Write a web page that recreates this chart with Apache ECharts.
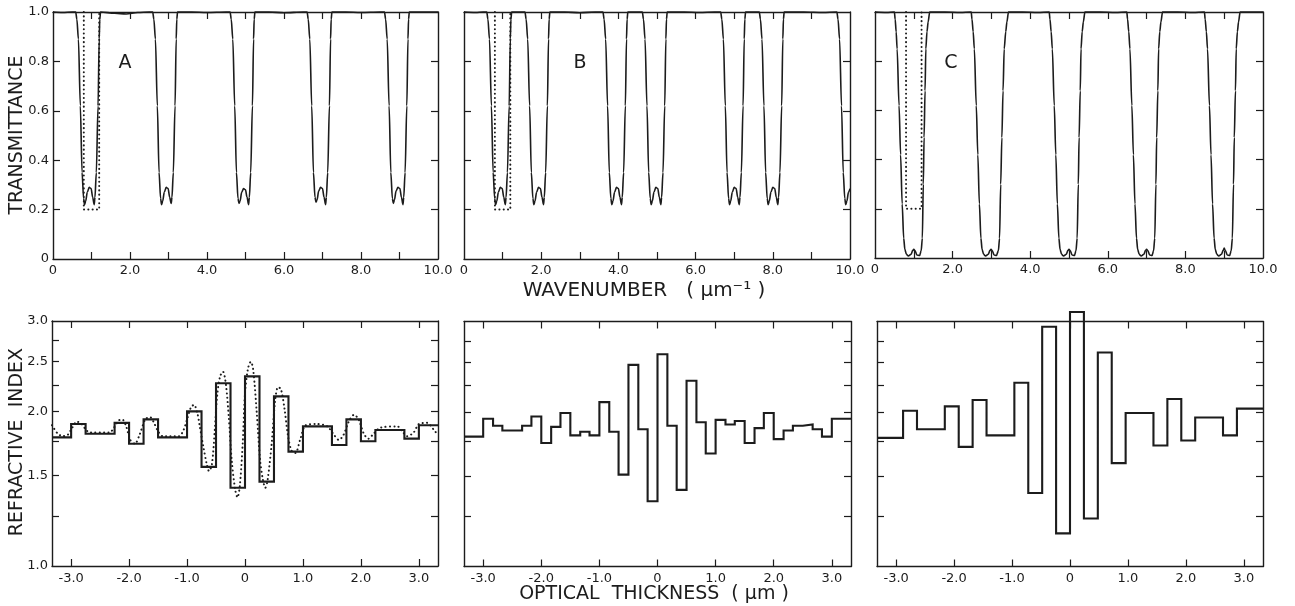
<!DOCTYPE html>
<html><head><meta charset="utf-8">
<script src="https://cdn.jsdelivr.net/npm/echarts@6/dist/echarts.min.js"></script>
<style>html,body{margin:0;padding:0;background:#fff}#c{width:1295px;height:606px}</style>
</head><body><div id="c"></div>
<script>
// ---------- Tick / label values ----------
const topXLabels = [0, 2, 4, 6, 8, 10];
const topXTicks = [1, 2, 3, 4, 5, 6, 7, 8, 9];
const topYLabels = [0, 0.2, 0.4, 0.6, 0.8, 1.0];
const topYTicks = [0.2, 0.4, 0.6, 0.8];
const botXLabels = [-3, -2, -1, 0, 1, 2, 3];
const botXTicks = [-3, -2, -1, 0, 1, 2, 3];
const botYLabels = [1.0, 1.5, 2.0, 2.5, 3.0];
const botYTicks = [1.25, 1.5, 1.75, 2.0, 2.25, 2.5, 2.75];

// ---------- Transmittance curves [wavenumber, T] ----------
const transA = [
 [0,1.0],[0.25,0.998],[0.5,1.0],
 [0.59,1.0],[0.62,0.97],[0.66,0.89],[0.71,0.62],[0.755,0.35],[0.795,0.245],[0.82,0.22],[0.85,0.235],[0.89,0.27],[0.94,0.29],[0.99,0.285],[1.03,0.25],[1.07,0.22],[1.09,0.25],[1.125,0.35],[1.17,0.62],[1.20,0.89],[1.215,0.97],[1.235,1.0],
 [1.6,0.995],[1.9,0.992],[2.2,0.998],[2.5,1.0],
 [2.59,1.0],[2.62,0.97],[2.66,0.89],[2.71,0.62],[2.755,0.35],[2.795,0.245],[2.82,0.22],[2.85,0.235],[2.89,0.27],[2.94,0.29],[2.99,0.285],[3.03,0.25],[3.07,0.225],[3.09,0.25],[3.125,0.35],[3.17,0.62],[3.20,0.89],[3.215,0.97],[3.235,1.0],
 [3.6,1.0],[4.0,0.998],[4.5,1.0],
 [4.60,1.0],[4.63,0.97],[4.67,0.89],[4.72,0.62],[4.765,0.35],[4.805,0.245],[4.83,0.225],[4.86,0.235],[4.90,0.27],[4.95,0.285],[5.0,0.28],[5.04,0.25],[5.08,0.22],[5.10,0.25],[5.135,0.35],[5.18,0.62],[5.21,0.89],[5.225,0.97],[5.245,1.0],
 [5.6,1.0],[6.0,0.997],[6.5,1.0],
 [6.60,1.0],[6.63,0.97],[6.67,0.89],[6.72,0.62],[6.765,0.35],[6.805,0.25],[6.83,0.23],[6.86,0.24],[6.90,0.275],[6.95,0.29],[7.0,0.285],[7.04,0.25],[7.08,0.22],[7.10,0.25],[7.135,0.35],[7.18,0.62],[7.21,0.89],[7.225,0.97],[7.245,1.0],
 [7.6,1.0],[8.0,0.998],[8.5,1.0],
 [8.61,1.0],[8.64,0.97],[8.68,0.89],[8.73,0.62],[8.775,0.35],[8.815,0.245],[8.84,0.225],[8.87,0.24],[8.91,0.275],[8.96,0.29],[9.01,0.285],[9.05,0.25],[9.09,0.22],[9.11,0.25],[9.145,0.35],[9.19,0.62],[9.22,0.89],[9.235,0.97],[9.255,1.0],
 [9.6,1.0],[10,1.0]
];
const transB = [
 [0,1.0],[0.3,0.998],[0.5,1.0],
 [0.59,1.0],[0.62,0.97],[0.66,0.89],[0.71,0.62],[0.755,0.35],[0.795,0.245],[0.82,0.22],[0.85,0.235],[0.89,0.27],[0.94,0.29],[0.99,0.285],[1.03,0.25],[1.07,0.22],[1.09,0.25],[1.125,0.35],[1.17,0.62],[1.20,0.89],[1.215,0.97],[1.235,1.0],
 [1.4,1.0],
 [1.58,1.0],[1.61,0.97],[1.65,0.89],[1.70,0.62],[1.745,0.35],[1.785,0.245],[1.81,0.22],[1.84,0.235],[1.88,0.27],[1.93,0.29],[1.98,0.285],[2.02,0.25],[2.06,0.22],[2.08,0.25],[2.115,0.35],[2.16,0.62],[2.19,0.89],[2.205,0.97],[2.225,1.0],
 [2.6,1.0],[3.0,0.997],[3.4,1.0],
 [3.60,1.0],[3.63,0.97],[3.67,0.89],[3.72,0.62],[3.765,0.35],[3.805,0.245],[3.83,0.22],[3.86,0.235],[3.90,0.27],[3.95,0.29],[4.00,0.285],[4.04,0.25],[4.08,0.22],[4.10,0.25],[4.135,0.35],[4.18,0.62],[4.21,0.89],[4.225,0.97],[4.245,1.0],
 [4.45,1.0],
 [4.62,1.0],[4.65,0.97],[4.69,0.89],[4.74,0.62],[4.785,0.35],[4.825,0.245],[4.85,0.22],[4.88,0.235],[4.92,0.27],[4.97,0.29],[5.02,0.285],[5.06,0.25],[5.10,0.22],[5.12,0.25],[5.155,0.35],[5.20,0.62],[5.23,0.89],[5.245,0.97],[5.265,1.0],
 [5.7,1.0],[6.1,0.998],[6.5,1.0],
 [6.65,1.0],[6.68,0.97],[6.72,0.89],[6.77,0.62],[6.815,0.35],[6.855,0.245],[6.88,0.22],[6.91,0.235],[6.95,0.27],[7.00,0.29],[7.05,0.285],[7.09,0.25],[7.13,0.22],[7.15,0.25],[7.185,0.35],[7.23,0.62],[7.26,0.89],[7.275,0.97],[7.295,1.0],
 [7.48,1.0],
 [7.65,1.0],[7.68,0.97],[7.72,0.89],[7.77,0.62],[7.815,0.35],[7.855,0.245],[7.88,0.22],[7.91,0.235],[7.95,0.27],[8.00,0.29],[8.05,0.285],[8.09,0.25],[8.13,0.22],[8.15,0.25],[8.185,0.35],[8.23,0.62],[8.26,0.89],[8.275,0.97],[8.295,1.0],
 [8.8,1.0],[9.3,0.998],
 [9.66,1.0],[9.69,0.97],[9.73,0.89],[9.78,0.62],[9.825,0.35],[9.865,0.245],[9.89,0.22],[9.92,0.235],[9.96,0.27],[10.0,0.285]
];
const transC = [
 [0,1.0],[0.3,0.998],
 [0.50,1.0],[0.52,0.97],[0.545,0.92],[0.57,0.85],[0.62,0.62],[0.66,0.42],[0.70,0.22],[0.74,0.08],[0.77,0.035],[0.81,0.015],[0.86,0.008],[0.93,0.015],[0.97,0.03],[1.0,0.035],[1.03,0.03],[1.08,0.012],[1.15,0.01],[1.19,0.03],[1.22,0.08],[1.245,0.3],[1.265,0.49],[1.29,0.68],[1.31,0.85],[1.34,0.92],[1.37,0.96],[1.41,1.0],
 [1.8,1.0],[2.2,0.998],
 [2.48,1.0],[2.50,0.97],[2.53,0.92],[2.56,0.85],[2.61,0.62],[2.65,0.42],[2.69,0.22],[2.73,0.08],[2.76,0.035],[2.80,0.015],[2.85,0.008],[2.92,0.015],[2.96,0.03],[2.99,0.035],[3.02,0.03],[3.07,0.012],[3.13,0.01],[3.18,0.03],[3.21,0.08],[3.24,0.3],[3.27,0.49],[3.30,0.68],[3.33,0.85],[3.37,0.92],[3.40,0.96],[3.44,1.0],
 [3.8,1.0],[4.2,0.998],
 [4.49,1.0],[4.51,0.97],[4.54,0.92],[4.57,0.85],[4.62,0.62],[4.66,0.42],[4.70,0.22],[4.74,0.08],[4.77,0.035],[4.81,0.015],[4.86,0.008],[4.93,0.015],[4.97,0.03],[5.0,0.035],[5.03,0.03],[5.08,0.012],[5.14,0.01],[5.18,0.03],[5.21,0.08],[5.24,0.3],[5.26,0.49],[5.29,0.68],[5.31,0.85],[5.34,0.92],[5.37,0.96],[5.41,1.0],
 [5.8,1.0],[6.2,0.998],
 [6.49,1.0],[6.51,0.97],[6.54,0.92],[6.57,0.85],[6.62,0.62],[6.66,0.42],[6.70,0.22],[6.74,0.08],[6.77,0.035],[6.81,0.015],[6.86,0.008],[6.93,0.015],[6.97,0.03],[7.0,0.035],[7.03,0.03],[7.08,0.012],[7.14,0.01],[7.18,0.03],[7.21,0.08],[7.24,0.3],[7.26,0.49],[7.29,0.68],[7.31,0.85],[7.34,0.92],[7.37,0.96],[7.41,1.0],
 [7.8,1.0],[8.2,0.998],
 [8.49,1.0],[8.51,0.97],[8.54,0.92],[8.57,0.85],[8.62,0.62],[8.66,0.42],[8.70,0.22],[8.74,0.08],[8.77,0.035],[8.81,0.015],[8.86,0.008],[8.93,0.015],[8.97,0.03],[9.0,0.04],[9.03,0.03],[9.08,0.012],[9.14,0.01],[9.18,0.03],[9.21,0.08],[9.24,0.3],[9.26,0.49],[9.29,0.68],[9.31,0.85],[9.34,0.92],[9.37,0.96],[9.41,1.0],
 [9.7,1.0],[10,1.0]
];
// dotted target rectangle (same in each top panel)
const targetX = [0.8, 0.8, 1.2, 1.2];
const targetT = [1.0, 0.2, 0.2, 1.0];

// ---------- Refractive index profiles ----------
const layerEdgesA = [-3.33,-3.0,-2.75,-2.25,-2.0,-1.75,-1.5,-1.0,-0.75,-0.5,-0.25,0.0,0.25,0.5,0.75,1.0,1.5,1.75,2.0,2.25,2.75,3.0,3.33];
const indexA = [1.78,1.89,1.81,1.90,1.73,1.93,1.78,2.00,1.56,2.27,1.42,2.34,1.46,2.14,1.67,1.87,1.72,1.93,1.75,1.84,1.77,1.88];
const layerEdgesB = [-3.33,-3.0,-2.83,-2.67,-2.33,-2.17,-2.0,-1.83,-1.67,-1.5,-1.33,-1.17,-1.0,-0.83,-0.67,-0.5,-0.33,-0.17,0.0,0.17,0.33,0.5,0.67,0.83,1.0,1.17,1.33,1.5,1.67,1.83,2.0,2.17,2.33,2.5,2.67,2.83,3.0,3.33];
const indexB = [1.79,1.94,1.88,1.84,1.88,1.96,1.74,1.87,1.99,1.80,1.83,1.80,2.09,1.83,1.51,2.47,1.85,1.34,2.59,1.88,1.41,2.30,1.91,1.66,1.93,1.89,1.92,1.74,1.86,1.99,1.77,1.84,1.88,1.89,1.85,1.79,1.94];
const layerEdgesC = [-3.33,-2.88,-2.64,-2.16,-1.92,-1.68,-1.44,-0.96,-0.72,-0.48,-0.24,0.0,0.24,0.48,0.72,0.96,1.44,1.68,1.92,2.16,2.64,2.88,3.33];
const indexC = [1.78,2.01,1.85,2.05,1.71,2.11,1.80,2.28,1.39,2.93,1.16,3.13,1.24,2.61,1.59,1.99,1.72,2.12,1.76,1.95,1.80,2.03];
// continuous (dotted) profile in panel A [thickness, n]
const contA = [[-3.33,1.88],[-3.23,1.81],[-3.14,1.79],[-3.06,1.80],[-2.98,1.86],[-2.90,1.91],[-2.82,1.89],[-2.74,1.84],[-2.68,1.82],[-2.34,1.82],[-2.26,1.86],[-2.18,1.92],[-2.12,1.93],[-2.05,1.87],[-1.98,1.76],[-1.90,1.73],[-1.82,1.80],[-1.72,1.93],[-1.64,1.95],[-1.57,1.90],[-1.50,1.83],[-1.42,1.79],[-1.14,1.79],[-1.06,1.84],[-1.0,1.93],[-0.93,2.04],[-0.88,2.06],[-0.82,1.98],[-0.78,1.87],[-0.72,1.71],[-0.66,1.58],[-0.62,1.53],[-0.57,1.58],[-0.52,1.85],[-0.48,2.15],[-0.43,2.34],[-0.38,2.39],[-0.33,2.26],[-0.28,1.95],[-0.23,1.61],[-0.17,1.41],[-0.13,1.36],[-0.09,1.43],[-0.04,1.73],[0.0,2.17],[0.05,2.42],[0.1,2.50],[0.14,2.42],[0.2,2.01],[0.26,1.61],[0.31,1.47],[0.35,1.42],[0.39,1.47],[0.46,1.73],[0.52,2.1],[0.57,2.23],[0.62,2.21],[0.68,2.03],[0.74,1.80],[0.8,1.68],[0.87,1.66],[0.95,1.76],[1.05,1.88],[1.24,1.89],[1.42,1.87],[1.52,1.81],[1.62,1.76],[1.70,1.80],[1.79,1.91],[1.88,1.97],[1.96,1.93],[2.05,1.81],[2.13,1.77],[2.22,1.81],[2.34,1.86],[2.63,1.87],[2.71,1.83],[2.80,1.79],[2.91,1.82],[3.0,1.89],[3.14,1.90],[3.26,1.84],[3.33,1.80]];

// ---------- Styling ----------
const INK = '#1c1c1c';
const FONT = 'DejaVu Sans';

const grids = [
  {left: 53,  top: 12,    width: 385, height: 247},
  {left: 464, top: 12,    width: 386, height: 247},
  {left: 875, top: 12,    width: 388, height: 246},
  {left: 52,  top: 321,   width: 386, height: 245},
  {left: 464, top: 321.5, width: 387, height: 245},
  {left: 877, top: 321.5, width: 386, height: 245}
];
grids.forEach(g => { g.outerBoundsMode = 'none'; g.containLabel = false; });

const f1 = v => (Math.abs(v) < 1e-9 ? '0' : Number(v).toFixed(1));

function mkAxis(gi, pos, cfg) {
  return Object.assign({
    type: 'value', gridIndex: gi, position: pos,
    splitLine: {show: false},
    axisLine: {show: true, onZero: false, lineStyle: {color: INK, width: 1.4}},
    axisTick: {show: true, inside: true, length: 7, lineStyle: {color: INK, width: 1.2}, customValues: cfg.ticks},
    axisLabel: cfg.labels ? {show: true, customValues: cfg.labels, formatter: f1, color: INK, fontFamily: FONT, fontSize: 13, margin: cfg.margin || 6} : {show: false},
    min: cfg.min, max: cfg.max
  }, cfg.extra || {});
}

const xAxes = [], yAxes = [];
for (let g = 0; g < 3; g++) {
  xAxes.push(mkAxis(g, 'bottom', {min: 0, max: 10, ticks: topXTicks, labels: topXLabels, margin: 5}));
  xAxes.push(mkAxis(g, 'top', {min: 0, max: 10, ticks: topXTicks}));
  yAxes.push(mkAxis(g, 'left', {min: 0, max: 1, ticks: topYTicks, labels: g === 0 ? topYLabels : null, margin: 4}));
  yAxes.push(mkAxis(g, 'right', {min: 0, max: 1, ticks: topYTicks}));
}
for (let g = 3; g < 6; g++) {
  xAxes.push(mkAxis(g, 'bottom', {min: -3.33, max: 3.33, ticks: botXTicks, labels: botXLabels, margin: 6}));
  xAxes.push(mkAxis(g, 'top', {min: -3.33, max: 3.33, ticks: botXTicks}));
  yAxes.push(mkAxis(g, 'left', {min: 1, max: 3, ticks: botYTicks, labels: g === 3 ? botYLabels : null, margin: 4, extra: {type: 'log', logBase: 10}}));
  yAxes.push(mkAxis(g, 'right', {min: 1, max: 3, ticks: botYTicks, extra: {type: 'log', logBase: 10}}));
}

function stepData(edges, vals) {
  return edges.map((e, i) => [e, vals[Math.min(i, vals.length - 1)]]);
}
const solid = (w) => ({color: INK, width: w, join: 'miter'});
const dotted = {color: INK, width: 2, type: [0.1, 4.2], cap: 'round'};

const series = [];
function addLine(gi, data, ls, extra) {
  series.push(Object.assign({
    type: 'line', xAxisIndex: 2 * gi, yAxisIndex: 2 * gi, data: data,
    symbol: 'none', showSymbol: false, lineStyle: ls, clip: false, silent: true, animation: false, z: 3
  }, extra || {}));
}
const curveOpts = {smooth: 0.3, smoothMonotone: 'x'};
addLine(0, transA, solid(1.6), curveOpts);
addLine(1, transB, solid(1.6), curveOpts);
addLine(2, transC, solid(1.6), curveOpts);
const rect = targetX.map((x, i) => [x, targetT[i]]);
addLine(0, rect, dotted);
addLine(1, rect, dotted);
addLine(2, rect, dotted);
addLine(3, stepData(layerEdgesA, indexA), solid(2.1), {step: 'end'});
addLine(3, contA, dotted, {smooth: 0.3});
addLine(4, stepData(layerEdgesB, indexB), solid(2.1), {step: 'end'});
addLine(5, stepData(layerEdgesC, indexC), solid(2.1), {step: 'end'});

const txt = (t, x, y, size, rot) => ({
  type: 'text', x: x, y: y, rotation: rot || 0, silent: true,
  style: {text: t, fill: INK, font: size + 'px "' + FONT + '"', align: 'center', verticalAlign: 'middle'}
});

const option = {
  animation: false,
  backgroundColor: '#ffffff',
  grid: grids,
  xAxis: xAxes,
  yAxis: yAxes,
  series: series,
  graphic: [
    txt('A', 125, 63, 19),
    txt('B', 580, 63, 19),
    txt('C', 951, 63, 19),
    txt('TRANSMITTANCE', 17, 135, 19, Math.PI / 2),
    txt('REFRACTIVE  INDEX', 17, 442, 19, Math.PI / 2),
    txt('WAVENUMBER   ( μm⁻¹ )', 644, 291, 20),
    txt('OPTICAL  THICKNESS  ( μm )', 654, 594, 19)
  ]
};
const chart = echarts.init(document.getElementById('c'), null, {renderer: 'canvas'});
chart.setOption(option);
</script></body></html>
